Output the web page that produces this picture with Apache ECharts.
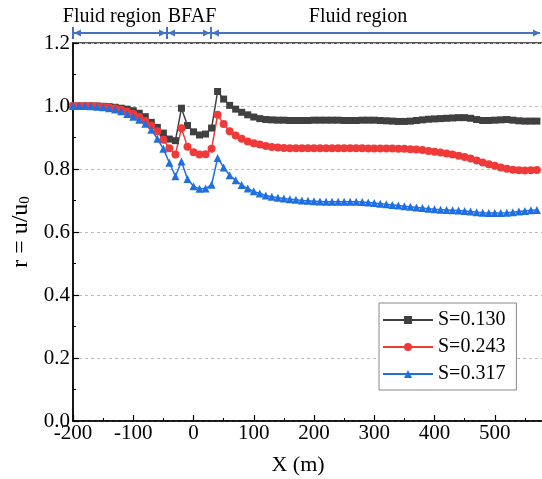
<!DOCTYPE html>
<html>
<head>
<meta charset="utf-8">
<script src="https://cdn.jsdelivr.net/npm/echarts@6/dist/echarts.min.js"></script>
<style>
html,body{margin:0;padding:0;background:#fff;}
#c{width:542px;height:479px;}
</style>
</head>
<body>
<div id="c"></div>
<script>
const xValues = [-200,-190,-180,-170,-160,-150,-140,-130,-120,-110,-100,-90,-80,-70,-60,-50,-40,-30,-20,-10,
0,10,20,30,40,50,60,70,80,90,100,110,120,130,140,150,160,170,180,190,200,210,220,230,240,250,260,270,280,290,
300,310,320,330,340,350,360,370,380,390,400,410,420,430,440,450,460,470,480,490,500,510,520,530,540,550,560,570];

const s130 = [1.000,1.000,1.000,1.000,1.000,0.999,0.998,0.996,0.993,0.990,0.985,0.977,0.966,0.948,0.932,0.914,0.895,0.890,0.993,0.938,
0.918,0.908,0.911,0.930,1.046,1.022,1.002,0.990,0.980,0.972,0.965,0.960,0.957,0.956,0.955,0.955,0.954,0.954,0.954,0.954,
0.955,0.955,0.955,0.955,0.955,0.954,0.954,0.954,0.955,0.955,0.955,0.954,0.953,0.952,0.951,0.951,0.952,0.954,0.956,0.958,
0.959,0.960,0.961,0.962,0.963,0.963,0.961,0.957,0.954,0.954,0.955,0.956,0.957,0.955,0.953,0.952,0.952,0.952];

const s243 = [1.000,1.000,1.000,1.000,0.999,0.998,0.996,0.992,0.988,0.982,0.975,0.965,0.952,0.937,0.920,0.893,0.866,0.846,0.929,0.871,
0.853,0.846,0.847,0.864,0.972,0.943,0.920,0.906,0.896,0.887,0.882,0.878,0.873,0.870,0.868,0.867,0.866,0.866,0.866,0.866,
0.866,0.866,0.866,0.866,0.866,0.866,0.866,0.866,0.866,0.865,0.865,0.865,0.865,0.865,0.864,0.864,0.863,0.862,0.860,0.857,
0.855,0.852,0.849,0.846,0.842,0.838,0.833,0.827,0.821,0.815,0.810,0.805,0.801,0.798,0.796,0.795,0.796,0.797];

const s317 = [1.000,1.000,1.000,0.999,0.998,0.996,0.993,0.989,0.983,0.975,0.966,0.956,0.944,0.925,0.896,0.864,0.820,0.777,0.824,0.768,
0.745,0.737,0.738,0.750,0.835,0.805,0.780,0.764,0.749,0.738,0.729,0.722,0.716,0.712,0.709,0.706,0.704,0.702,0.700,0.699,
0.698,0.697,0.696,0.696,0.696,0.696,0.696,0.696,0.695,0.694,0.692,0.690,0.688,0.686,0.684,0.682,0.680,0.678,0.676,0.674,
0.672,0.671,0.670,0.669,0.668,0.667,0.665,0.663,0.661,0.660,0.660,0.660,0.661,0.663,0.665,0.667,0.669,0.670];

const seriesNames = ['S=0.130','S=0.243','S=0.317'];
const regionBounds = [-200, -44, 29, 577];
const regionLabels = ['Fluid region','BFAF','Fluid region'];

const FONT = '"Liberation Serif","Times New Roman",serif';
const chart = echarts.init(document.getElementById('c'), null, {renderer:'canvas'});

function pairs(ys){ return xValues.map((x,i)=>[x, ys[i]]); }

const colors = ['#404040','#f03a3a','#1f6fe0'];
const symbols = ['rect','circle','triangle'];
const sizes = [7,8,8];
const dataSets = [s130, s243, s317];

chart.setOption({
  animation:false,
  backgroundColor:'#fff',
  grid:{left:73, top:43, width:482, height:378, outerBoundsMode:'none', containLabel:false,
        show:true, borderColor:'#222', borderWidth:1.5, backgroundColor:'transparent'},
  legend:{
    orient:'vertical', left:379, top:303,
    padding:[7,11,6,3], itemGap:7,
    backgroundColor:'#fff', borderColor:'#888', borderWidth:1,
    itemWidth:50, itemHeight:10,
    textStyle:{fontFamily:FONT, fontSize:20, color:'#000'},
    data:seriesNames
  },
  xAxis:{
    type:'value', min:-200, max:600, interval:100,
    name:'X (m)', nameLocation:'middle', nameGap:33,
    nameTextStyle:{fontFamily:FONT, fontSize:22, color:'#000', padding:[0,32,0,0]},
    axisLine:{show:true, onZero:false, lineStyle:{color:'#000', width:1.5}},
    axisTick:{show:true, inside:true, length:6, lineStyle:{color:'#000', width:1.2}},
    minorTick:{show:true, splitNumber:2, length:3, lineStyle:{color:'#000', width:1}},
    axisLabel:{fontFamily:FONT, fontSize:21, color:'#000', margin:2, showMaxLabel:false,
               formatter:v=> v>=600 ? '' : String(v)},
    splitLine:{show:false}
  },
  yAxis:{
    type:'value', min:0, max:1.2, interval:0.2,
    name:'{n|r = u/u}{s|0}', nameLocation:'middle', nameGap:24,
    nameTextStyle:{rich:{
      n:{fontFamily:FONT, fontSize:24, color:'#000'},
      s:{fontFamily:FONT, fontSize:15, color:'#000', verticalAlign:'bottom', padding:[9,0,0,0]}
    }},
    axisLine:{show:true, onZero:false, lineStyle:{color:'#000', width:1.5}},
    axisTick:{show:true, inside:true, length:6, lineStyle:{color:'#000', width:1.2}},
    minorTick:{show:true, splitNumber:2, length:3, lineStyle:{color:'#000', width:1}},
    axisLabel:{fontFamily:FONT, fontSize:21, color:'#000', margin:3, formatter:v=>v.toFixed(1)},
    splitLine:{show:true, lineStyle:{color:'#bbb', type:[3,3], width:1}}
  },
  series:seriesNames.map((n,i)=>({
    name:n, type:'line', data:pairs(dataSets[i]),
    symbol:symbols[i], symbolSize:sizes[i], showAllSymbol:true,
    itemStyle:{color:colors[i]},
    lineStyle:{color:colors[i], width:1.5},
    clip:true
  }))
});

// top region annotations
const ay = 33;
const ac = '#4472c4';
const px = regionBounds.map(v=>chart.convertToPixel({xAxisIndex:0}, v));
px[px.length-1] = Math.min(px[px.length-1], 541);
const g = [];
for (let i=0;i<px.length-1;i++){
  const a = px[i], b = px[i+1];
  g.push({type:'line', shape:{x1:a+1, y1:ay, x2:b-1, y2:ay}, style:{stroke:ac, lineWidth:2}});
  g.push({type:'polygon', shape:{points:[[a+1,ay],[a+8,ay-3.5],[a+8,ay+3.5]]}, style:{fill:ac}});
  g.push({type:'polygon', shape:{points:[[b-1,ay],[b-8,ay-3.5],[b-8,ay+3.5]]}, style:{fill:ac}});
}
for (let i=0;i<px.length-1;i++){
  g.push({type:'line', shape:{x1:px[i], y1:ay-6, x2:px[i], y2:ay+6}, style:{stroke:ac, lineWidth:2}});
}
const labelX = [112, 192, 358];
regionLabels.forEach((t,i)=>{
  g.push({type:'text', x:labelX[i], y:17, style:{text:t, font:'20px '+FONT, fill:'#000', align:'center', verticalAlign:'middle'}});
});
chart.setOption({graphic:g});
</script>
</body>
</html>
